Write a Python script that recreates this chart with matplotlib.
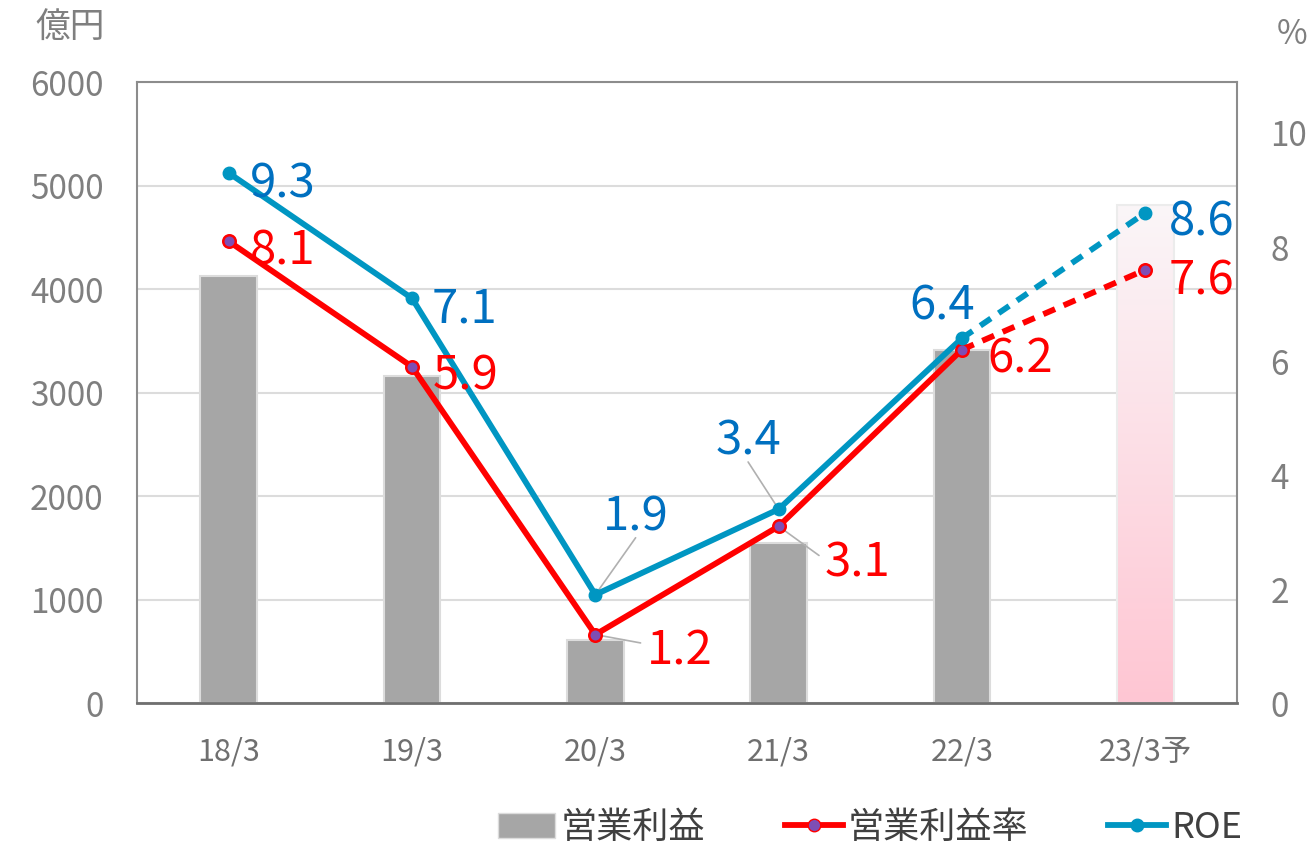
import numpy as np
import matplotlib
matplotlib.use("Agg")
import matplotlib.pyplot as plt
from matplotlib.colors import LinearSegmentedColormap
from matplotlib.lines import Line2D
from matplotlib.patches import Patch

plt.rcParams['font.family'] = ['Noto Sans CJK JP', 'DejaVu Sans']

# 決算期ごとの数値
periods = ['18/3', '19/3', '20/3', '21/3', '22/3', '23/3予']
op_profit = [4130, 3160, 610, 1545, 3410, 4810]      # 営業利益（億円）
op_margin = [8.1, 5.9, 1.2, 3.1, 6.2, 7.6]          # 営業利益率（%）
roe = [9.3, 7.1, 1.9, 3.4, 6.4, 8.6]                # ROE（%）

left_ticks = [0, 1000, 2000, 3000, 4000, 5000, 6000]
right_ticks = [0, 2, 4, 6, 8, 10]

# ラベル位置（ポイント単位のオフセット、寄せ方、引き出し線の有無）
margin_offsets = [(15, -3, 'left', False), (15, -3, 'left', False), (37, -8, 'left', True),
                  (33, -23, 'left', True), (18, -3, 'left', False), (17, -4, 'left', False)]
roe_offsets = [(15, -4, 'left', False), (14, -4, 'left', False), (29, 60, 'center', True),
               (-22, 53, 'center', True), (-14, 27, 'center', False), (17, -3, 'left', False)]

GRAY_TEXT = '#7f7f7f'
RED = '#ff0000'
ROE_LINE = '#0096c2'
ROE_TEXT = '#0070c0'
PURPLE = '#7e4eb4'

fig = plt.figure(figsize=(13.11, 8.46), dpi=100)
ax = fig.add_axes([137 / 1311, 1 - 703 / 846, 1100 / 1311, 621 / 846])
ax2 = ax.twinx()

x = np.arange(len(periods))
width = 0.31

bars = ax.bar(x[:-1], op_profit[:-1], width, color='#a6a6a6',
              edgecolor='#dcdcdc', linewidth=1.5, zorder=2)

# 予想値の棒はグラデーション
fc_bar = ax.bar(x[-1], op_profit[-1], width, color='none',
                edgecolor='#ececec', linewidth=1.5, zorder=2)[0]
cmap = LinearSegmentedColormap.from_list('fc', ['#ffc6d3', '#faf6f8'])
grad = np.linspace(0, 1, 256).reshape(-1, 1)
img = ax.imshow(grad, cmap=cmap, origin='lower', aspect='auto',
                extent=[x[-1] - width / 2, x[-1] + width / 2, 0, op_profit[-1]], zorder=1.9)
img.set_clip_path(fc_bar)

ax.set_xlim(-0.5, len(periods) - 0.5)
ax.set_ylim(0, 6000)
ax.set_yticks(left_ticks)
ax.set_xticks(x)
ax.set_xticklabels(periods)
ax.tick_params(axis='y', length=0, pad=24, labelsize=24, labelcolor=GRAY_TEXT)
ax.tick_params(axis='x', length=0, pad=24, labelsize=22, labelcolor='#6f6f6f')
ax.grid(axis='y', color='#dcdcdc', linewidth=1.5, zorder=0)
ax.set_axisbelow(True)

for name in ['left', 'top', 'right']:
    ax.spines[name].set_color('#8c8c8c')
    ax.spines[name].set_linewidth(1.5)
ax.spines['bottom'].set_color('#6f6f6f')
ax.spines['bottom'].set_linewidth(2)

# 右軸: 10% が左軸の約 5500 の高さ
ax2.set_ylim(0, 621 / 57)
ax2.set_yticks(right_ticks)
ax2.tick_params(axis='y', length=0, pad=24, labelsize=24, labelcolor=GRAY_TEXT)
for s in ax2.spines.values():
    s.set_visible(False)

# 実績は実線、予想区間は破線
lw = 4.2
ax2.plot(x[:-1], op_margin[:-1], color=RED, lw=lw, zorder=3)
ax2.plot(x[-2:], op_margin[-2:], color=RED, lw=lw, ls=(0, (2.2, 1.6)), zorder=3)
ax2.plot(x, op_margin, ls='none', marker='o', ms=9, mfc=PURPLE, mec=RED, mew=1.8, zorder=4)

ax2.plot(x[:-1], roe[:-1], color=ROE_LINE, lw=lw, zorder=3)
ax2.plot(x[-2:], roe[-2:], color=ROE_LINE, lw=lw, ls=(0, (2.2, 1.6)), zorder=3)
ax2.plot(x, roe, ls='none', marker='o', ms=9, mfc=ROE_LINE, mec=ROE_LINE, zorder=4)


def put_labels(values, offsets, color):
    for i, v in enumerate(values):
        dx, dy, ha, leader = offsets[i]
        ax2.annotate(f'{v:.1f}', xy=(x[i], v), xytext=(dx, dy), textcoords='offset points',
                     ha=ha, va='center_baseline', fontsize=34, color=color, zorder=5)
        if leader:
            # 引き出し線はラベル手前まで
            ex = dx * 0.88 if ha == 'left' else dx
            ey = dy - 19 * np.sign(dy) if ha == 'center' else dy + 2
            ax2.annotate('', xy=(x[i], v), xytext=(ex, ey), textcoords='offset points',
                         arrowprops=dict(arrowstyle='-', color='#b0b0b0', lw=1.2,
                                         shrinkA=0, shrinkB=0), zorder=2.5)


put_labels(op_margin, margin_offsets, RED)
put_labels(roe, roe_offsets, ROE_TEXT)

fig.text(70 / 1311, 1 - 28 / 846, '億円', ha='center', va='center', fontsize=25, color=GRAY_TEXT)
fig.text(1292 / 1311, 1 - 35 / 846, '%', ha='center', va='center', fontsize=24, color=GRAY_TEXT)

handles = [
    Patch(facecolor='#a6a6a6', edgecolor='#dcdcdc'),
    Line2D([], [], color=RED, lw=lw, marker='o', ms=9, mfc=PURPLE, mec=RED),
    Line2D([], [], color=ROE_LINE, lw=lw, marker='o', ms=9, mfc=ROE_LINE, mec=ROE_LINE),
]
fig.legend(handles, ['営業利益', '営業利益率', 'ROE'], loc='center', ncol=3,
           bbox_to_anchor=(870 / 1311, 1 - 828 / 846), frameon=False, fontsize=26,
           labelcolor='#404040', handlelength=1.6, handletextpad=0.15, columnspacing=2.2)

fig.savefig('out.png', dpi=100)
